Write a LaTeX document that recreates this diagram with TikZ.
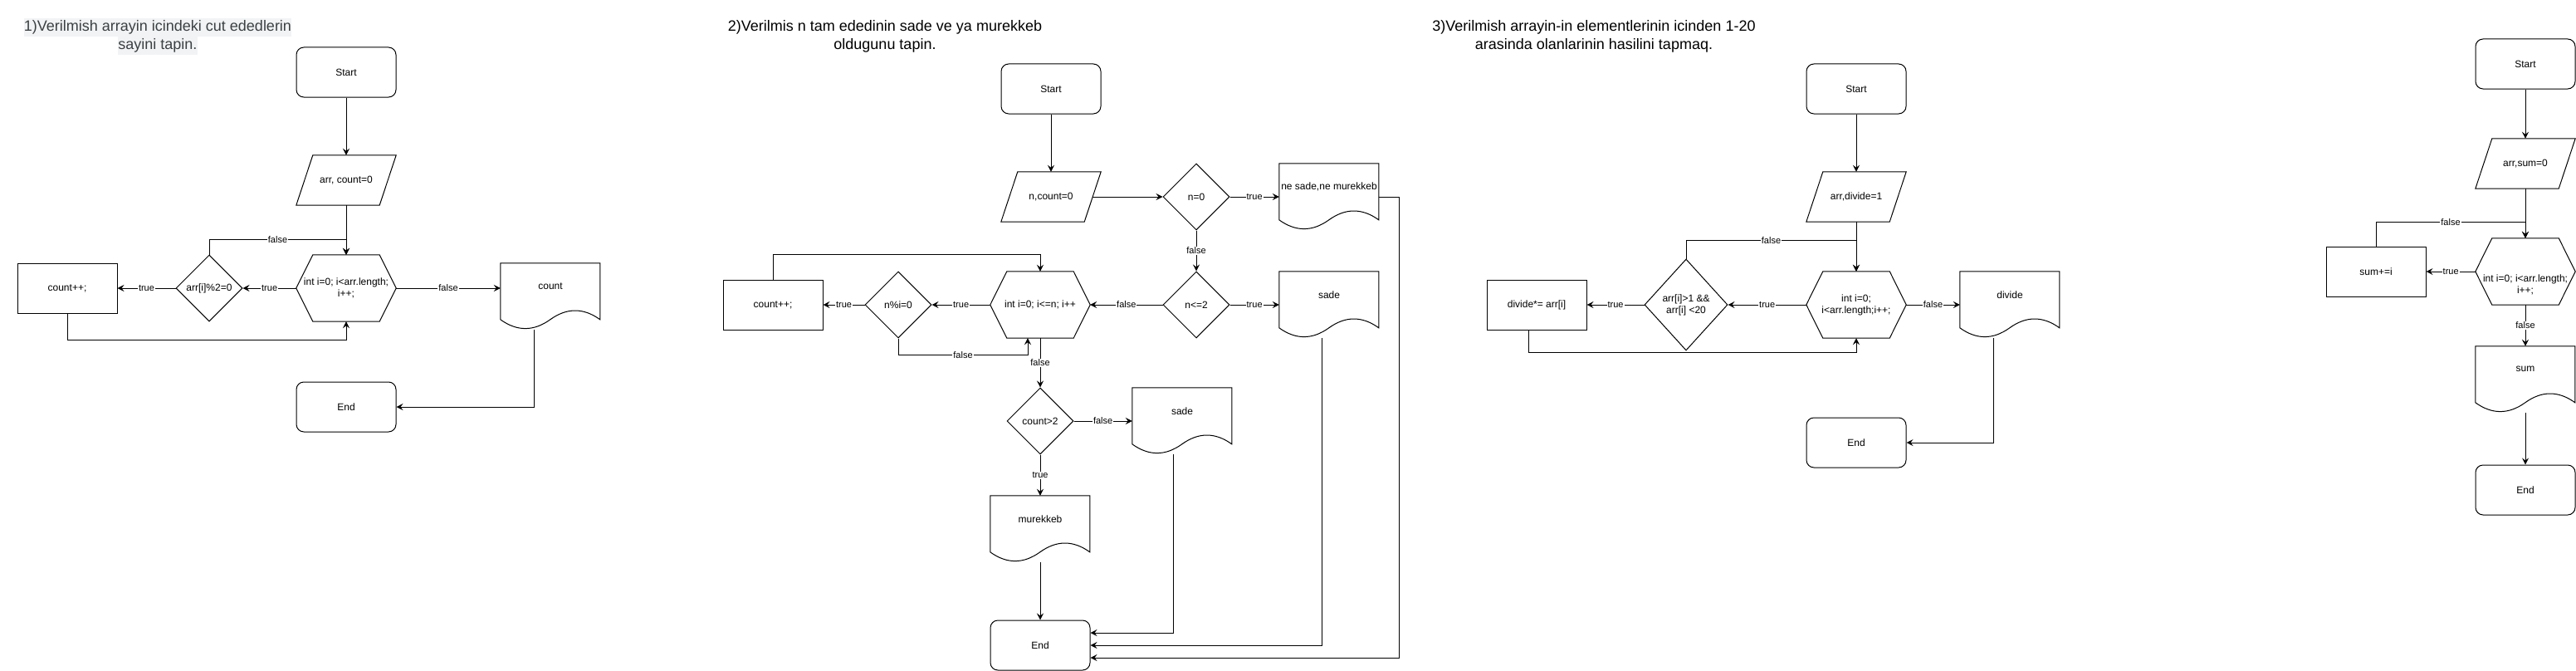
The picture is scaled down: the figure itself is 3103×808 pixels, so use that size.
\documentclass[tikz,border=0pt]{standalone}
\usepackage{fontspec}
\setmainfont{Liberation Sans}
\usetikzlibrary{calc,arrows.meta,shapes.geometric}
\definecolor{titlebg}{HTML}{F1F3F4}
\definecolor{titlefg}{HTML}{3C4043}
\newcommand\fsn{\fontsize{12}{14}\selectfont}
\newcommand\fsl{\fontsize{11}{13}\selectfont}
\newcommand\fst{\fontsize{18}{21.6}\selectfont}
\tikzset{
  every node/.style={font=\fsn},
  box/.style={draw, line width=1pt, inner sep=0pt, align=center, minimum width=120pt, minimum height=60pt},
  term/.style={box, rounded corners=9pt},
  dia/.style={draw, line width=1pt, diamond, inner sep=0pt, align=center, minimum width=80pt, minimum height=80pt},
  ghost/.style={inner sep=0pt, align=center, minimum width=120pt},
  ln/.style={line width=1pt},
  arr/.style={ln, -{Stealth[length=8pt,width=8pt,inset=3pt]}},
  lbl/.style={fill=white, inner sep=1pt, font=\fsl},
  ttl/.style={font=\fst, inner xsep=0pt, inner ysep=1.2pt, text height=14pt, text depth=5pt},
}
\newcommand\hexnode[4]{%
  \node[ghost, minimum height=80pt] (#1) at (#2,#3) {#4};
  \draw[ln] ($(#1.north west)+(20,0)$) -- ($(#1.north east)+(-20,0)$) -- (#1.east)
    -- ($(#1.south east)+(-20,0)$) -- ($(#1.south west)+(20,0)$) -- (#1.west) -- cycle;}
\newcommand\paranode[4]{%
  \node[ghost, minimum height=60pt] (#1) at (#2,#3) {#4};
  \draw[ln] ($(#1.north west)+(20,0)$) -- (#1.north east) -- ($(#1.south east)+(-20,0)$)
    -- (#1.south west) -- cycle;}
\newcommand\docnode[4]{%
  \node[ghost, minimum height=80pt] (#1) at (#2,#3) {};
  \begin{scope}[shift={(#1.north west)}]
    \draw[ln] (0,0) -- (120,0) -- (120,68) .. controls (100,53.6) and (80,53.6) .. (60,68)
      .. controls (40,82.4) and (20,82.4) .. (0,68) -- cycle;
  \end{scope}
  \node (#1-t) at ($(#1.north)+(0,28)$) {#4};}
\begin{document}
\begin{tikzpicture}[x=1pt,y=-1pt]
\useasboundingbox (0,0) rectangle (3103,808);

% ---------------- Diagram 1 ----------------
\node[ttl, fill=titlebg, text=titlefg] (t1a) at (190,33) {1)Verilmish arrayin icindeki cut ededlerin};
\node[ttl, fill=titlebg, text=titlefg] (t1b) at (190,55) {sayini tapin.};
\node[term] (s1) at (417,87) {Start};
\paranode{p1}{417}{217}{arr, count=0}
\hexnode{h1}{417}{347}{int i=0; i<arr.length;\\ i++;}
\node[dia] (d1) at (252,347) {arr[i]\%2=0};
\node[box] (r1) at (81,347) {count++;};
\docnode{o1}{663}{357}{count}
\node[term] (e1) at (417,490) {End};
\draw[arr] (s1) -- (p1);
\draw[arr] (p1) -- (h1);
\draw[arr] (d1.north) |- node[lbl,pos=0.75]{false} ($(h1.north)+(0,-18)$) -- (h1.north);
\draw[arr] (h1.west) -- node[lbl]{true} (d1.east);
\draw[arr] (d1.west) -- node[lbl]{true} (r1.east);
\draw[arr] (r1.south) -- ++(0,32) -| (h1.south);
\draw[arr] (h1.east) -- node[lbl]{false} (h1.east -| o1.west);
\draw[arr] ($(o1.south)+(-20,0)$) |- (e1.east);

% ---------------- Diagram 2 ----------------
\node[ttl] (t2a) at (1066,33) {2)Verilmis n tam ededinin sade ve ya murekkeb};
\node[ttl] (t2b) at (1066,55) {oldugunu tapin.};
\node[term] (s2) at (1266,107) {Start};
\paranode{p2}{1266}{237}{n,count=0}
\node[dia] (c2a) at (1441,237) {n=0};
\docnode{o2a}{1601}{237}{ne sade,ne murekkeb}
\node[dia] (c2b) at (1441,367) {n<=2};
\docnode{o2b}{1601}{367}{sade}
\hexnode{h2}{1253}{367}{int i=0; i<=n; i++}
\node[dia] (c2c) at (1082,367) {n\%i=0};
\node[box] (r2) at (931,367) {count++;};
\node[dia] (c2d) at (1253,507) {count>2};
\docnode{o2c}{1424}{507}{sade}
\docnode{o2d}{1253}{637}{murekkeb}
\node[term] (e2) at (1253,777) {End};
\draw[arr] (s2) -- (p2);
\draw[arr] ($(p2.east)+(-10,0)$) -- (c2a.west);
\draw[arr] (c2a.east) -- node[lbl]{true} (o2a.west);
\draw[arr] (c2a.south) -- node[lbl]{false} (c2b.north);
\draw[arr] (c2b.east) -- node[lbl]{true} (o2b.west);
\draw[arr] (c2b.west) -- node[lbl]{false} (h2.east);
\draw[arr] (h2.west) -- node[lbl]{true} (c2c.east);
\draw[arr] (c2c.west) -- node[lbl]{true} (r2.east);
\draw[arr] (r2.north) |- ($(h2.north)+(0,-20)$) -- (h2.north);
\draw[arr] (c2c.south) |- node[lbl,pos=0.75]{false} ($(h2.south)+(-15,20)$) -- ($(h2.south)+(-15,0)$);
\draw[arr] (h2.south) -- node[lbl]{false} (c2d.north);
\draw[arr] (c2d.east) -- node[lbl]{false} (o2c.west);
\draw[arr] (c2d.south) -- node[lbl]{true} (o2d.north);
\draw[arr] (o2d.south) -- (e2.north);
\draw[arr] ($(o2c.south)+(-11,0)$) |- ($(e2.east)+(0,-15)$);
\draw[arr] ($(o2b.south)+(-9,0)$) |- (e2.east);
\draw[arr] (o2a.east) -- ++(24,0) |- ($(e2.east)+(0,15)$);

% ---------------- Diagram 3 ----------------
\node[ttl] (t3a) at (1920,33) {3)Verilmish arrayin-in elementlerinin icinden 1-20};
\node[ttl] (t3b) at (1920,55) {arasinda olanlarinin hasilini tapmaq.};
\node[term] (s3) at (2236,107) {Start};
\paranode{p3}{2236}{237}{arr,divide=1}
\hexnode{h3}{2236}{367}{int i=0;\\i<arr.length;i++;}
\node[dia, minimum width=100pt, minimum height=110pt] (c3) at (2031,367) {arr[i]>1 \&\&\\arr[i] <20};
\node[box] (r3) at (1851,367) {divide*= arr[i]};
\docnode{o3}{2421}{367}{divide}
\node[term] (e3) at (2236,533) {End};
\draw[arr] (s3) -- (p3);
\draw[arr] (p3) -- (h3);
\draw[arr] (c3.north) |- node[lbl,pos=0.75]{false} ($(h3.north)+(0,-37)$) -- (h3.north);
\draw[arr] (h3.west) -- node[lbl]{true} (c3.east);
\draw[arr] (c3.west) -- node[lbl]{true} (r3.east);
\draw[arr] ($(r3.south)+(-10,0)$) -- ++(0,27) -| (h3.south);
\draw[arr] (h3.east) -- node[lbl]{false} (o3.west);
\draw[arr] ($(o3.south)+(-20,0)$) |- (e3.east);

% ---------------- Diagram 4 ----------------
\node[term] (s4) at (3042,77) {Start};
\paranode{p4}{3042}{197}{arr,sum=0}
\hexnode{h4}{3042}{327}{}
\node[align=center] (h4t) at (3042,343) {int i=0; i<arr.length;\\i++;};
\node[box] (r4) at (2862,327) {sum+=i};
\docnode{o4}{3042}{457}{sum}
\node[term] (e4) at (3042,590) {End};
\draw[arr] (s4) -- (p4);
\draw[arr] (p4) -- (h4);
\draw[arr] (r4.north) |- node[lbl,pos=0.75]{false} ($(h4.north)+(0,-19)$) -- (h4.north);
\draw[arr] (h4.west) -- node[lbl]{true} (r4.east);
\draw[arr] (h4.south) -- node[lbl]{false} (o4.north);
\draw[arr] (o4.south) -- (e4.north);
\end{tikzpicture}
\end{document}
